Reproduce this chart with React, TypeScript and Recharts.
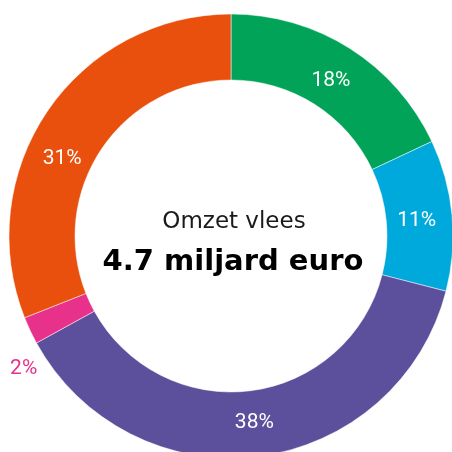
import React from "react";
import { PieChart, Pie, Cell } from "recharts";

const categories = ["Vlees A", "Vlees B", "Vlees C", "Vlees D", "Vlees E"];
const values = [18, 11, 38, 2, 31];
const labels = ["18%", "11%", "38%", "2%", "31%"];
const colors = ["#00A358", "#00A9DB", "#5C4F9C", "#E8318A", "#E9500E"];
const titleLine = "Omzet vlees";
const totalLine = "4.7 miljard euro";

const data = categories.map((name, i) => ({ name, value: values[i], label: labels[i] }));

const RAD = Math.PI / 180;
const LABEL_FONT = "Roboto, 'Noto Sans', sans-serif";
const CENTER_FONT = "'DejaVu Sans', sans-serif";
const LABEL_SIZE = 21;

const renderLabel = (props: any) => {
  const { cx, cy, midAngle, outerRadius, index } = props;
  const outside = values[index] < 5;
  let angle = midAngle;
  if (index === 4) angle += 9;
  if (outside) angle += 7;
  const r = outside ? outerRadius + 23 : 186.5;
  const x = cx + r * Math.cos(-angle * RAD);
  const y = cy + r * Math.sin(-angle * RAD);
  return (
    <text
      x={x}
      y={y + LABEL_SIZE * 0.355}
      fill={outside ? colors[index] : "#ffffff"}
      textAnchor="middle"
      fontFamily={LABEL_FONT}
      fontSize={LABEL_SIZE}
    >
      {labels[index]}
    </text>
  );
};

export default function App() {
  const W = 452;
  const H = 452;
  const cx = 231;
  const cy = 236;
  return (
    <div style={{ position: "fixed", left: 0, top: 0, width: W, height: H }}>
      <PieChart width={W} height={H} margin={{ top: 0, right: 0, bottom: 0, left: 0 }}>
        <Pie
          data={data}
          dataKey="value"
          nameKey="name"
          cx={cx}
          cy={cy}
          innerRadius={156}
          outerRadius={222}
          startAngle={90}
          endAngle={-270}
          stroke="#ffffff"
          strokeWidth={0.5}
          label={renderLabel}
          labelLine={false}
          isAnimationActive={false}
        >
          {data.map((d, i) => (
            <Cell key={d.name} fill={colors[i]} />
          ))}
        </Pie>
      </PieChart>
      <svg
        width={W}
        height={H}
        style={{ position: "absolute", left: 0, top: 0, pointerEvents: "none" }}
      >
        <text x={234} y={228} textAnchor="middle" fontFamily={CENTER_FONT} fontSize={23} fill="#1a1a1a">
          {titleLine}
        </text>
        <text x={233} y={270} textAnchor="middle" fontFamily={CENTER_FONT} fontSize={29} fontWeight={700} fill="#000000">
          {totalLine}
        </text>
      </svg>
    </div>
  );
}
